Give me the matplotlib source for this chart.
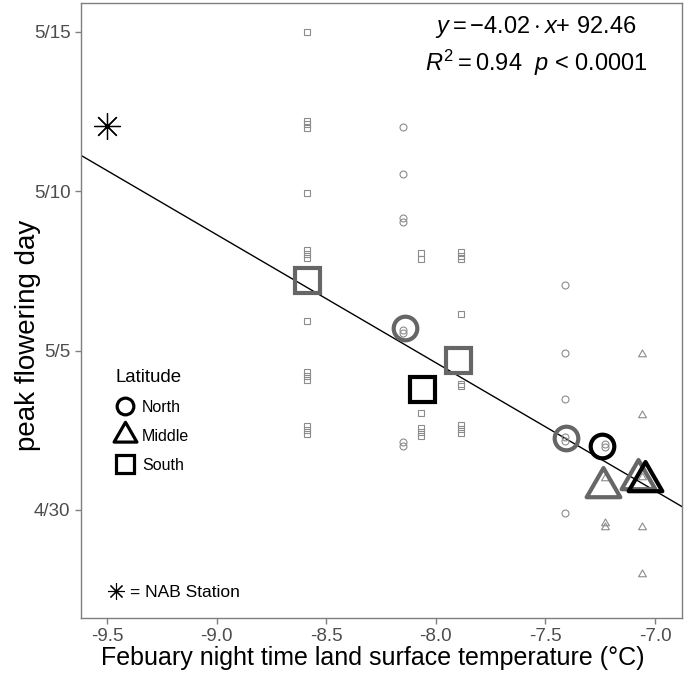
import numpy as np
import matplotlib
matplotlib.use("Agg")
import matplotlib.pyplot as plt
from matplotlib.lines import Line2D
from matplotlib.path import Path

plt.rcParams['font.family'] = ['Liberation Sans', 'DejaVu Sans']
plt.rcParams['axes.unicode_minus'] = False
plt.rcParams['mathtext.fontset'] = 'custom'
plt.rcParams['mathtext.rm'] = 'Liberation Sans'
plt.rcParams['mathtext.it'] = 'Liberation Sans:italic'

# ---------------- data ----------------
# individual observations (temperature, day of year)
north_x = [-8.15, -8.15, -8.15, -8.15, -8.15, -8.15, -8.15, -8.15,
           -7.41, -7.41, -7.41, -7.41, -7.41, -7.41,
           -7.23, -7.23]
north_y = [132.02, 130.54, 129.16, 129.04, 125.65, 125.56, 122.13, 122.0,
           127.06, 124.93, 123.48, 122.28, 122.18, 119.91,
           122.07, 121.97]
middle_x = [-7.23, -7.23, -7.23,
            -7.06, -7.06, -7.06, -7.06, -7.06]
middle_y = [121.0, 119.6, 119.47,
            124.9, 122.98, 121.04, 119.47, 117.99]
south_x = [-8.59] * 15 + [-8.07] * 6 + [-7.885] * 9
south_y = [135.0, 132.2, 132.1, 132.0, 129.95, 128.16, 128.03, 127.9, 125.93,
           124.33, 124.2, 124.08, 122.64, 122.51, 122.39,
           128.07, 127.88, 123.05, 122.58, 122.45, 122.33,
           128.1, 127.97, 127.88, 126.15, 123.95, 123.89, 122.67, 122.54, 122.42]

# group means
mean_x = [-8.59, -8.14, -8.063, -7.90, -7.406, -7.242, -7.237, -7.08, -7.045]
mean_y = [127.22, 125.71, 123.8, 124.71, 122.26, 122.01, 120.72, 120.97, 120.91]
mean_lat = ['South', 'North', 'South', 'South', 'North', 'North', 'Middle', 'Middle', 'Middle']
mean_shade = ['grey', 'grey', 'black', 'grey', 'grey', 'black', 'grey', 'grey', 'black']

# NAB station
nab_x = [-9.5]
nab_y = [132.05]

# regression
slope, intercept = -4.02, 92.46

xticks = [-9.5, -9.0, -8.5, -8.0, -7.5, -7.0]
yticks = [120, 125, 130, 135]
ytick_labels = ['4/30', '5/5', '5/10', '5/15']

# ---------------- plot ----------------
W, H = 686, 682
fig = plt.figure(figsize=(W / 100, H / 100), dpi=100)
ax = fig.add_axes([81 / W, 1 - 618 / H, (682 - 81) / W, (618 - 3) / H])

tri = Path([(-1, -0.577), (1, -0.577), (0, 1.155), (-1, -0.577)],
           [Path.MOVETO, Path.LINETO, Path.LINETO, Path.CLOSEPOLY])
shape_marker = {'North': 'o', 'Middle': tri, 'South': 's'}
big_size = {'North': 17, 'Middle': 28, 'South': 18}
small_size = {'North': 5, 'Middle': 6.5, 'South': 5}
shade_col = {'grey': '#666666', 'black': '#000000'}
small_col = '#8c8c8c'

xmin, xmax = -9.619, -6.877
xl = np.array([xmin, xmax])
ax.plot(xl, slope * xl + intercept, color='black', lw=1.0, zorder=2)

for lat, xs, ys in [('North', north_x, north_y), ('Middle', middle_x, middle_y),
                    ('South', south_x, south_y)]:
    ax.plot(xs, ys, ls='none', marker=shape_marker[lat], ms=small_size[lat],
            mfc='none', mec=small_col, mew=0.8, zorder=3)

for x, y, lat, sh in zip(mean_x, mean_y, mean_lat, mean_shade):
    ax.plot([x], [y], ls='none', marker=shape_marker[lat], ms=big_size[lat],
            mfc='none', mec=shade_col[sh], mew=3.0, zorder=4)

ax.plot(nab_x, nab_y, ls='none', marker=(8, 2, 0), ms=19, mec='black', mew=0.9, zorder=4)

ax.set_xlim(xmin, xmax)
ax.set_ylim(116.61, 135.91)
ax.set_xticks(xticks)
ax.set_xticklabels([f"{v:.1f}" for v in xticks])
ax.set_yticks(yticks)
ax.set_yticklabels(ytick_labels)
ax.tick_params(colors='#7f7f7f', labelcolor='#4d4d4d', labelsize=13.5, length=4.5,
               width=1, pad=3)
for s in ax.spines.values():
    s.set_color('#7f7f7f')
    s.set_linewidth(1.0)

ax.set_xlabel('Febuary night time land surface temperature (°C)', fontsize=18)
ax.xaxis.set_label_coords(0.486, -0.045)
ax.set_ylabel('peak flowering day', fontsize=20)
ax.yaxis.set_label_coords(-0.066, 0.46)

ax.text(0.757, 0.961, r'$y=-4.02\cdot x$+ 92.46', transform=ax.transAxes,
        ha='center', va='center', fontsize=17)
ax.text(0.757, 0.902, r'$R^2=$0.94  $p$ < 0.0001', transform=ax.transAxes,
        ha='center', va='center', fontsize=17)

handles = [Line2D([], [], ls='none', marker=shape_marker[k], ms=ms, mfc='none',
                  mec='black', mew=2.3)
           for k, ms in [('North', 12), ('Middle', 19), ('South', 13.5)]]
leg = ax.legend(handles, ['North', 'Middle', 'South'], title='Latitude',
                loc='upper left', bbox_to_anchor=(0.0433, 0.418), frameon=False,
                fontsize=11.5, title_fontsize=13.4, alignment='left',
                borderpad=0, handletextpad=0.5, labelspacing=0.87, handlelength=1.2)
ax.add_artist(leg)
h2 = [Line2D([], [], ls='none', marker=(8, 2, 0), ms=12, mec='black', mew=0.8)]
ax.legend(h2, ['= NAB Station'], loc='lower left', bbox_to_anchor=(0.030, 0.015),
          frameon=False, fontsize=12.5, borderpad=0, handletextpad=0.3, handlelength=1.0)

fig.savefig('out.png', dpi=100)
